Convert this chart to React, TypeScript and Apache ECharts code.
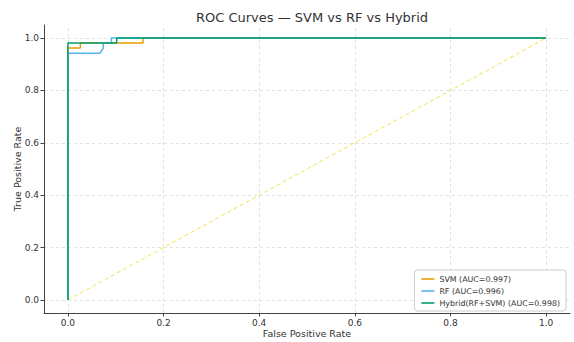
import React, { useEffect, useRef } from "react";
import * as echarts from "echarts";

const seriesNames = ["SVM (AUC=0.997)", "RF (AUC=0.996)", "Hybrid(RF+SVM) (AUC=0.998)"];
const svmFpr = [0, 0, 0.026, 0.026, 0.157, 0.157, 1];
const svmTpr = [0, 0.962, 0.962, 0.981, 0.981, 1, 1];
const rfFpr = [0, 0, 0.067, 0.074, 0.074, 0.091, 0.091, 1];
const rfTpr = [0, 0.942, 0.942, 0.962, 0.981, 0.981, 1, 1];
const hybFpr = [0, 0, 0.102, 0.102, 1];
const hybTpr = [0, 0.981, 0.981, 1, 1];
const chanceX = [0, 1];
const chanceY = [0, 1];
const tickValues = [0, 0.2, 0.4, 0.6, 0.8, 1.0];
const colors = ["#E69F00", "#56B4E9", "#009E73", "#F0E442"];

const zip = (a: number[], b: number[]) => a.map((v, i) => [v, b[i]]);

export default function App() {
  const ref = useRef<HTMLDivElement>(null);
  useEffect(() => {
    if (!ref.current) return;
    const chart = echarts.init(ref.current, undefined, { renderer: "svg" });
    const font = "DejaVu Sans";
    const axisCommon = {
      type: "value" as const,
      min: -0.05,
      max: 1.05,
      nameLocation: "middle" as const,
      nameMoveOverlap: false,
      nameTextStyle: { fontFamily: font, fontSize: 9.5, color: "#333" },
      axisLine: { show: true, onZero: false, lineStyle: { color: "#444", width: 1 } },
      axisTick: {
        show: true,
        length: 3.5,
        lineStyle: { color: "#444" },
        customValues: tickValues,
      },
      axisLabel: {
        fontFamily: font,
        fontSize: 9,
        color: "#333",
        customValues: tickValues,
        formatter: (v: number) => v.toFixed(1),
      },
      splitLine: { show: false },
    };
    const gridLineStyle = { color: "#d9d9d9", type: [3, 3] as any, width: 0.8 };
    chart.setOption({
      animation: false,
      backgroundColor: "#fff",
      title: {
        text: "ROC Curves — SVM vs RF vs Hybrid",
        left: 307,
        textAlign: "center",
        top: 6,
        textStyle: { fontFamily: font, fontSize: 13, fontWeight: "normal", color: "#333" },
      },
      grid: { left: 44, right: 4, top: 25, bottom: 29, outerBoundsMode: "none", containLabel: false },
      xAxis: { ...axisCommon, name: "False Positive Rate", nameGap: 15, axisLabel: { ...axisCommon.axisLabel, margin: 5 } },
      yAxis: { ...axisCommon, name: "True Positive Rate", nameGap: 22, axisLabel: { ...axisCommon.axisLabel, margin: 5 } },
      legend: {
        data: seriesNames,
        orient: "vertical",
        right: 8,
        bottom: 31,
        icon: "rect",
        itemWidth: 13,
        itemHeight: 1.6,
        itemGap: 4,
        padding: [5, 6, 4, 7],
        borderColor: "#ccc",
        borderWidth: 1,
        borderRadius: 3,
        backgroundColor: "rgba(255,255,255,0.9)",
        textStyle: { fontFamily: font, fontSize: 7.9, color: "#333" },
      },
      series: [
        {
          name: "chance",
          type: "line",
          data: zip(chanceX, chanceY),
          showSymbol: false,
          lineStyle: { color: colors[3], width: 1, type: [4, 3] },
          silent: true,
          z: 1,
          markLine: {
            silent: true,
            z: 0,
            symbol: "none",
            label: { show: false },
            lineStyle: gridLineStyle,
            data: [
              ...tickValues.map((v) => ({ xAxis: v })),
              ...tickValues.map((v) => ({ yAxis: v })),
            ],
          },
        },
        {
          name: seriesNames[0],
          type: "line",
          data: zip(svmFpr, svmTpr),
          showSymbol: false,
          z: 2,
          itemStyle: { color: colors[0] },
          lineStyle: { color: colors[0], width: 1.5 },
        },
        {
          name: seriesNames[1],
          type: "line",
          data: zip(rfFpr, rfTpr),
          showSymbol: false,
          z: 3,
          itemStyle: { color: colors[1] },
          lineStyle: { color: colors[1], width: 1.5 },
        },
        {
          name: seriesNames[2],
          type: "line",
          data: zip(hybFpr, hybTpr),
          showSymbol: false,
          z: 4,
          itemStyle: { color: colors[2] },
          lineStyle: { color: colors[2], width: 1.5 },
        },
      ],
    });
    return () => chart.dispose();
  }, []);
  return <div ref={ref} style={{ width: 574, height: 342, position: "fixed", left: 0, top: 0 }} />;
}
